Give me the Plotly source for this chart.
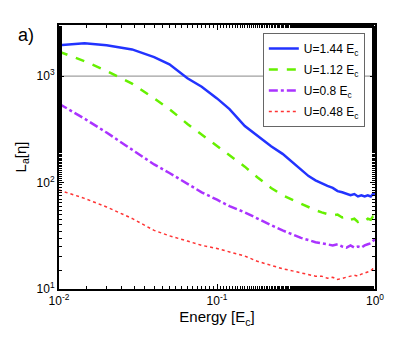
import plotly.graph_objects as go

# energies in units of E_c
energy = [0.010, 0.0145, 0.020, 0.029, 0.040, 0.050, 0.065, 0.080, 0.100, 0.120,
          0.150, 0.180, 0.220, 0.260, 0.300, 0.340, 0.380, 0.420, 0.460, 0.500,
          0.540, 0.580, 0.620, 0.660, 0.700, 0.740, 0.780, 0.820, 0.860, 0.900,
          0.940, 0.970, 1.000]

la_144 = [1950, 2040, 1950, 1780, 1510, 1290, 955, 794, 617, 490,
          339, 275, 219, 186, 155, 132, 115, 105, 98, 93,
          89, 83, 81, 79, 76, 78, 74, 76, 74, 76,
          74, 78, 79]
la_112 = [1700, 1380, 1120, 850, 617, 490, 355, 282, 219, 178,
          141, 112, 89, 76, 69, 63, 59, 55, 52.5, 51,
          49, 50, 47, 48, 44.7, 45.7, 42.7, 44.7, 43.6, 45.7,
          44.7, 47.9, 46.8]
la_080 = [550, 398, 295, 204, 148, 123, 98, 81, 69, 60,
          52.5, 45.7, 39.8, 35.5, 32.4, 30.2, 28.8, 27.5, 26.9, 26.3,
          25.7, 26.3, 25.1, 24.5, 25.7, 24.5, 25.1, 24.5, 25.7, 26.3,
          26.9, 28.2, 29.5]
la_048 = [85, 71, 59, 46, 35.5, 31.6, 28.2, 25.7, 24.0, 22.4,
          20.4, 18.2, 16.6, 15.5, 14.8, 14.1, 13.5, 13.2, 13.2, 12.6,
          12.9, 12.3, 12.6, 12.9, 13.2, 13.5, 13.2, 13.8, 14.1, 14.5,
          14.8, 15.5, 15.8]

x_ticks = [0.01, 0.1, 1]
x_labels = ["10<sup>-2</sup>", "10<sup>-1</sup>", "10<sup>0</sup>"]
y_ticks = [10, 100, 1000]
y_labels = ["10<sup>1</sup>", "10<sup>2</sup>", "10<sup>3</sup>"]

series = [
    ("U=1.44 E<sub>c</sub>", la_144, "#2233ff", "solid", 2.5),
    ("U=1.12 E<sub>c</sub>", la_112, "#66f000", "dash", 2.5),
    ("U=0.8 E<sub>c</sub>", la_080, "#aa33ff", "dashdot", 2.5),
    ("U=0.48 E<sub>c</sub>", la_048, "#ff3333", "dot", 1.5),
]

fig = go.Figure()
for name, ys, color, dash, width in series:
    fig.add_trace(go.Scatter(x=energy, y=ys, mode="lines", name=name, legendgroup=name,
                             line=dict(color=color, dash=dash, width=width)))

# reference line at 10^3
fig.add_shape(type="line", xref="paper", x0=0, x1=1, yref="y", y0=1000, y1=1000,
              line=dict(color="#888888", width=1), layer="below")

fig.add_annotation(text="a)", xref="paper", yref="paper", x=-0.135, y=0.962,
                   xanchor="left", yanchor="middle",
                   showarrow=False, font=dict(size=18, color="black"))

axis_style = dict(type="log", showline=True, linecolor="black", linewidth=2, mirror="ticks",
                  ticks="inside", ticklen=5, tickcolor="black", showgrid=False, zeroline=False,
                  tickfont=dict(size=12, color="black"),
                  minor=dict(ticks="inside", ticklen=3, tickcolor="black", showgrid=False))

fig.update_xaxes(**axis_style, range=[-2, 0], tickvals=x_ticks, ticktext=x_labels,
                 title=dict(text="Energy [E<sub>c</sub>]", font=dict(size=15, color="black"), standoff=4))
fig.update_yaxes(**axis_style, range=[1, 3.48], tickvals=y_ticks, ticktext=y_labels,
                 title=dict(text="L<sub>a</sub>[η]", font=dict(size=15, color="black"), standoff=6))

# page body keeps an 8px margin, so the figure is 8px smaller than the window
fig.update_layout(
    width=407, height=330,
    margin=dict(l=46, r=40, t=17, b=49),
    paper_bgcolor="white", plot_bgcolor="white",
    font=dict(family="Liberation Sans, Arial, sans-serif", color="black"),
    legend=dict(x=0.645, y=0.97, xanchor="left", yanchor="top",
                bgcolor="white", bordercolor="#666666", borderwidth=1,
                font=dict(size=12), tracegroupgap=2),
)

fig.write_html("out.html")
